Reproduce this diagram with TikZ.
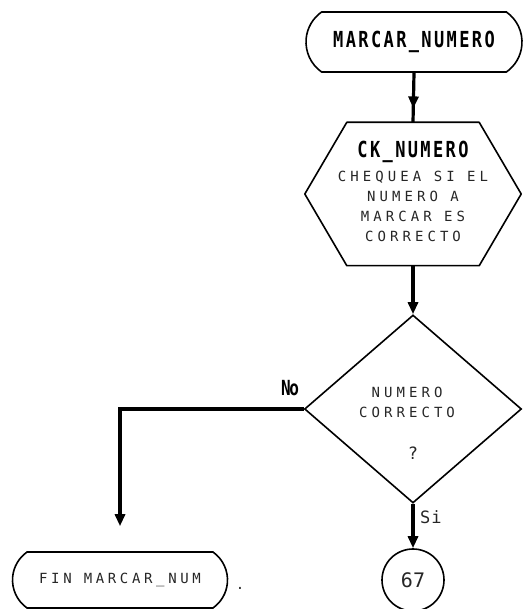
\documentclass[tikz,border=0pt]{standalone}
\usepackage{fontspec}
\usepackage{graphicx}
\usetikzlibrary{shapes.misc,shapes.geometric,arrows.meta,calc,decorations.markings}
% printer-like lettering
\newfontfamily\dotfont[LetterSpace=29]{DejaVu Sans Mono}
\newfontfamily\headfont[LetterSpace=14]{DejaVu Sans Mono}
\newcommand\tallbold[1]{\scalebox{1}[1.3]{\headfont\bfseries #1}}

\tikzset{
  outline/.style={draw=black, line width=1.6pt},
  terminal/.style={outline, rounded rectangle, rounded rectangle arc length=110,
    inner sep=0pt},
  flow/.style={line width=3.2pt, black},
  tipped/.style={flow, -{Triangle[width=10pt,length=12pt]}},
  midtip/.style={flow, decoration={markings,
      mark=at position #1 with {\arrow{Triangle[width=10pt,length=12pt]}}},
    postaction={decorate}},
  bodytext/.style={font=\dotfont\fontsize{14}{20}\selectfont, text=black!85,
    align=center, inner sep=0pt},
}

\begin{document}
\begin{tikzpicture}[x=1pt,y=1pt]
  \useasboundingbox (0,0) rectangle (523,609);

  % start terminal
  \node[terminal, minimum width=216, minimum height=60] (start) at (414,567)
    {\tallbold{\fontsize{17}{17}\selectfont MARCAR\_NUMERO}};

  % process step drawn as a hexagon around a plain rectangular node
  \node[minimum width=216, minimum height=143, inner sep=0pt] (ck) at (413,415) {};
  \draw[outline, line join=round]
    ($(ck.north west)+(42,0)$) -- ($(ck.north east)+(-42,0)$) -- (ck.east)
    -- ($(ck.south east)+(-42,0)$) -- ($(ck.south west)+(42,0)$) -- (ck.west) -- cycle;
  \node (cktitle) at (413,457) {\tallbold{\fontsize{17}{17}\selectfont CK\_NUMERO}};
  \node[bodytext, anchor=north] (cktext) at (413,438)
    {CHEQUEA SI EL\\NUMERO A\\MARCAR ES\\CORRECTO};

  % decision
  \node[outline, diamond, minimum width=217, minimum height=188, inner sep=0pt]
    (dec) at (413,200) {};
  \node[bodytext] (dectext) at (407,207) {NUMERO\\CORRECTO};
  \node[bodytext, font=\dotfont\fontsize{17}{17}\selectfont] (decq) at (413,156) {?};

  % end terminal and connector circle
  \node[terminal, minimum width=215, minimum height=56] (fin) at (120,29)
    {\dotfont\fontsize{14}{14}\selectfont\addfontfeature{LetterSpace=26}\color{black!85}FIN MARCAR\_NUM};
  \node[bodytext] (dot) at (240,21) {.};
  \node[outline, circle, minimum size=62, inner sep=0pt] (c67) at (413,29)
    {\fontsize{20}{20}\selectfont\dotfont\addfontfeature{LetterSpace=0}\color{black!85}67};

  % connectors
  \draw[midtip=0.72] (start.south) -- (ck.north);
  \draw[tipped] (ck.south) -- (dec.north);
  \draw[tipped, line width=4pt, shorten >=25pt] (dec.west) -| (fin.north);
  \draw[tipped] (dec.south) -- (c67.north);

  % branch labels
  \node (nolabel) at (290,221) {\tallbold{\fontsize{16}{16}\selectfont\addfontfeature{LetterSpace=-8}No}};
  \node[inner sep=0pt, anchor=west, text=black!85] (silabel) at (420,92)
    {\dotfont\fontsize{17}{17}\selectfont\addfontfeature{LetterSpace=5}Si};
\end{tikzpicture}
\end{document}
